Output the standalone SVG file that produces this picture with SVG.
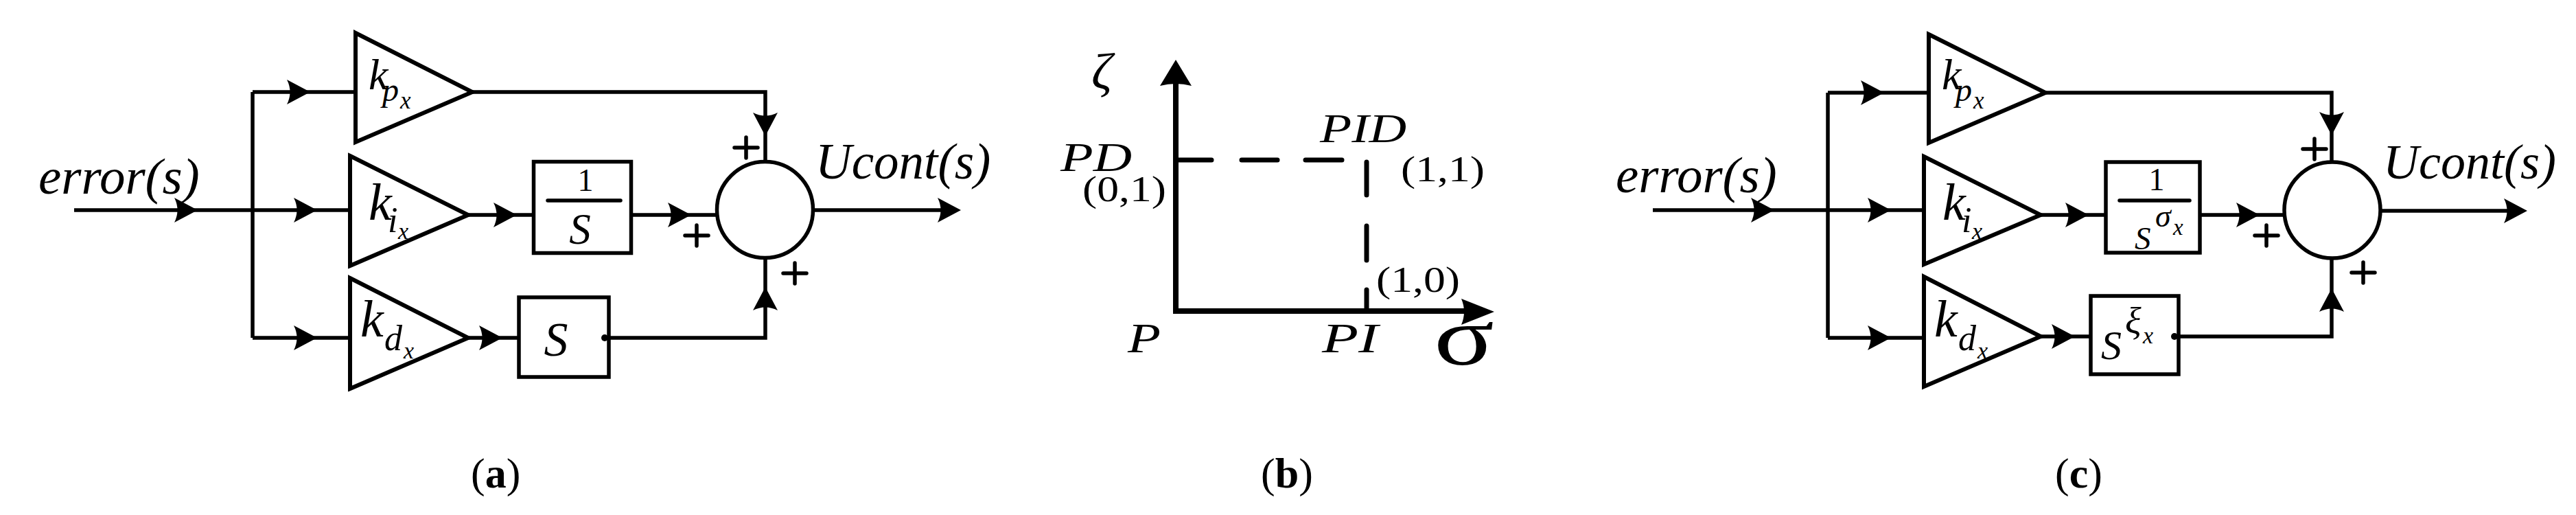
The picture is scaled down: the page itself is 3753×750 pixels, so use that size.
<svg xmlns="http://www.w3.org/2000/svg" width="3753" height="750" viewBox="0 0 3753 750">
<style>
.ln{fill:none;stroke:#000;stroke-width:5.5;stroke-linecap:butt;stroke-linejoin:miter}
.ax{fill:none;stroke:#000;stroke-width:8}
.dash{fill:none;stroke:#000;stroke-width:7;stroke-linecap:round}
.blk{fill:none;stroke:#000;stroke-width:5.5}
.tri{fill:#fff;stroke:#000;stroke-width:6;stroke-linejoin:miter}
.plus{fill:none;stroke:#000;stroke-width:5.5;stroke-linecap:round}
.m{font-family:"Liberation Serif","Times New Roman",serif;font-style:italic;fill:#000}
.r{font-family:"Liberation Serif","Times New Roman",serif;fill:#000}
.cap{font-family:"Liberation Serif","Times New Roman",serif;font-size:62px;fill:#000}
</style>
<defs>
<path id="ah" d="M0,0 L-34,-18 Q-25,0 -34,18 Z" fill="#000"/>
<path id="axv" d="M0,0 L-38,-23 Q-32,0 -38,23 Z" fill="#000"/>
<path id="axh" d="M0,0 L-48,-19 Q-40,0 -48,19 Z" fill="#000"/>
<path id="pl" d="M-17,0 H17 M0,-15 V15"/>
</defs>

<!-- ========== Panel (a) ========== -->
<g id="connectors-a">
<path class="ln" d="M108,306 H368"/>
<path class="ln" d="M368,134 V492"/>
<path class="ln" d="M368,134 H518"/>
<path class="ln" d="M368,306 H510"/>
<path class="ln" d="M368,492 H510"/>
<path class="ln" d="M688,134 H1115 V236"/>
<path class="ln" d="M682,313 H777"/>
<path class="ln" d="M920,313 H1045"/>
<path class="ln" d="M682,492 H756"/>
<path class="ln" d="M887,492 H1115 V376"/>
<path class="ln" d="M1185,306 H1385"/>
<circle cx="881" cy="492" r="5" fill="#000"/>
<use href="#ah" transform="translate(288,306)"/>
<use href="#ah" transform="translate(452,134)"/>
<use href="#ah" transform="translate(462,306)"/>
<use href="#ah" transform="translate(462,492)"/>
<use href="#ah" transform="translate(753,313)"/>
<use href="#ah" transform="translate(1007,313)"/>
<use href="#ah" transform="translate(732,492)"/>
<use href="#ah" transform="translate(1115,198) rotate(90)"/>
<use href="#ah" transform="translate(1115,418) rotate(-90)"/>
<use href="#ah" transform="translate(1400,306)"/>
</g>
<g id="a-input-label"><text class="m" x="56" y="282" font-size="75">error(s)</text></g>
<g id="a-kp">
<polygon class="tri" points="518,48 688,134 518,207"/>
<text class="m" x="537" y="130" font-size="64">k</text>
<text class="m" x="557" y="147" font-size="48">p</text>
<text class="m" x="583" y="158" font-size="35">x</text>
</g>
<g id="a-ki">
<polygon class="tri" points="510,227 682,313 510,387"/>
<text class="m" x="537" y="320" font-size="76">k</text>
<text class="m" x="565" y="338" font-size="52">i</text>
<text class="m" x="580" y="348" font-size="34">x</text>
</g>
<g id="a-kd">
<polygon class="tri" points="510,405 682,492 510,566"/>
<text class="m" x="525" y="490" font-size="76">k</text>
<text class="m" x="560" y="510" font-size="52">d</text>
<text class="m" x="588" y="522" font-size="34">x</text>
</g>
<g id="a-integrator">
<rect class="blk" x="777.5" y="235.5" width="142" height="133"/>
<line class="plus" x1="798" y1="292" x2="904" y2="292"/>
<text class="r" x="853" y="278" font-size="46" text-anchor="middle">1</text>
<text class="m" x="845" y="355" font-size="63" text-anchor="middle">S</text>
</g>
<g id="a-derivative">
<rect class="blk" x="756" y="433" width="131" height="116"/>
<text class="m" x="810" y="518" font-size="70" text-anchor="middle">S</text>
</g>
<g id="a-sum">
<circle class="blk" cx="1114.5" cy="305.5" r="70"/>
<use href="#pl" class="plus" transform="translate(1087,215)"/>
<use href="#pl" class="plus" transform="translate(1015,343)"/>
<use href="#pl" class="plus" transform="translate(1158,398)"/>
</g>
<g id="a-output-label"><text class="m" x="1188" y="260" font-size="73">Ucont(s)</text></g>
<g id="cap-a"><text class="cap" x="686" y="710">(<tspan font-weight="bold">a</tspan>)</text></g>

<!-- ========== Panel (b) ========== -->
<g id="connectors-b">
<path class="ax" d="M1713,457 V115"/>
<path class="ax" d="M1709,453 H2140"/>
<use href="#axv" transform="translate(1713,87) rotate(-90)"/>
<use href="#axh" transform="translate(2177,454)"/>
<line class="dash" x1="1717" y1="233" x2="1765" y2="233"/>
<line class="dash" x1="1809" y1="233" x2="1861" y2="233"/>
<line class="dash" x1="1902" y1="233" x2="1955" y2="233"/>
<line class="dash" x1="1991" y1="236" x2="1991" y2="284"/>
<line class="dash" x1="1991" y1="329" x2="1991" y2="379"/>
<line class="dash" x1="1991" y1="422" x2="1991" y2="453"/>
</g>
<g id="b-labels">
<text class="m" x="1590" y="129" font-size="75">ζ</text>
<text class="m" x="1545" y="249" font-size="60" textLength="104" lengthAdjust="spacingAndGlyphs">PD</text>
<text class="r" x="1577" y="293" font-size="52" textLength="122" lengthAdjust="spacingAndGlyphs">(0,1)</text>
<text class="m" x="1923" y="207" font-size="60" textLength="126" lengthAdjust="spacingAndGlyphs">PID</text>
<text class="r" x="2041" y="264" font-size="52" textLength="122" lengthAdjust="spacingAndGlyphs">(1,1)</text>
<text class="r" x="2005" y="425" font-size="52" textLength="122" lengthAdjust="spacingAndGlyphs">(1,0)</text>
<text class="m" x="1643" y="513" font-size="62" textLength="48" lengthAdjust="spacingAndGlyphs">P</text>
<text class="m" x="1926" y="513" font-size="62" textLength="82" lengthAdjust="spacingAndGlyphs">PI</text>
<text class="r" x="2089" y="531" font-size="120" textLength="88" lengthAdjust="spacingAndGlyphs">σ</text>
</g>
<g id="cap-b"><text class="cap" x="1837" y="710">(<tspan font-weight="bold">b</tspan>)</text></g>

<!-- ========== Panel (c) ========== -->
<g id="connectors-c">
<path class="ln" d="M2408,306 H2663"/>
<path class="ln" d="M2663,135 V492"/>
<path class="ln" d="M2663,135 H2810"/>
<path class="ln" d="M2663,306 H2803"/>
<path class="ln" d="M2663,492 H2803"/>
<path class="ln" d="M2980,135 H3397 V236"/>
<path class="ln" d="M2973,313 H3068"/>
<path class="ln" d="M3205,313 H3330"/>
<path class="ln" d="M2973,490 H3046"/>
<path class="ln" d="M3174,490 H3397 V376"/>
<path class="ln" d="M3468,307 H3667"/>
<circle cx="3168" cy="490" r="5" fill="#000"/>
<use href="#ah" transform="translate(2585,306)"/>
<use href="#ah" transform="translate(2745,135)"/>
<use href="#ah" transform="translate(2755,306)"/>
<use href="#ah" transform="translate(2755,492)"/>
<use href="#ah" transform="translate(3043,313)"/>
<use href="#ah" transform="translate(3292,313)"/>
<use href="#ah" transform="translate(3023,490)"/>
<use href="#ah" transform="translate(3397,197) rotate(90)"/>
<use href="#ah" transform="translate(3397,420) rotate(-90)"/>
<use href="#ah" transform="translate(3682,307)"/>
</g>
<g id="c-input-label"><text class="m" x="2354" y="280" font-size="75">error(s)</text></g>
<g id="c-kp">
<polygon class="tri" points="2810,50 2980,135 2810,208"/>
<text class="m" x="2829" y="130" font-size="64">k</text>
<text class="m" x="2849" y="147" font-size="48">p</text>
<text class="m" x="2875" y="158" font-size="35">x</text>
</g>
<g id="c-ki">
<polygon class="tri" points="2803,228 2973,313 2803,385"/>
<text class="m" x="2830" y="320" font-size="76">k</text>
<text class="m" x="2858" y="338" font-size="52">i</text>
<text class="m" x="2873" y="348" font-size="34">x</text>
</g>
<g id="c-kd">
<polygon class="tri" points="2803,403 2973,490 2803,563"/>
<text class="m" x="2818" y="490" font-size="76">k</text>
<text class="m" x="2853" y="510" font-size="52">d</text>
<text class="m" x="2881" y="522" font-size="34">x</text>
</g>
<g id="c-fractional-integrator">
<rect class="blk" x="3068" y="236" width="137" height="132"/>
<line class="plus" x1="3088" y1="292" x2="3190" y2="292"/>
<text class="r" x="3142" y="277" font-size="46" text-anchor="middle">1</text>
<text class="m" x="3110" y="363" font-size="47">S</text>
<text class="m" x="3140" y="330" font-size="46">σ</text>
<text class="m" x="3166" y="342" font-size="33">x</text>
</g>
<g id="c-fractional-derivative">
<rect class="blk" x="3046" y="431" width="128" height="114"/>
<text class="m" x="3061" y="523" font-size="60">S</text>
<text class="m" x="3096" y="486" font-size="55">ξ</text>
<text class="m" x="3122" y="500" font-size="34">x</text>
</g>
<g id="c-sum">
<circle class="blk" cx="3398" cy="306" r="70"/>
<use href="#pl" class="plus" transform="translate(3372,217)"/>
<use href="#pl" class="plus" transform="translate(3302,343)"/>
<use href="#pl" class="plus" transform="translate(3443,397)"/>
</g>
<g id="c-output-label"><text class="m" x="3472" y="260" font-size="72">Ucont(s)</text></g>
<g id="cap-c"><text class="cap" x="2994" y="710">(<tspan font-weight="bold">c</tspan>)</text></g>
</svg>
